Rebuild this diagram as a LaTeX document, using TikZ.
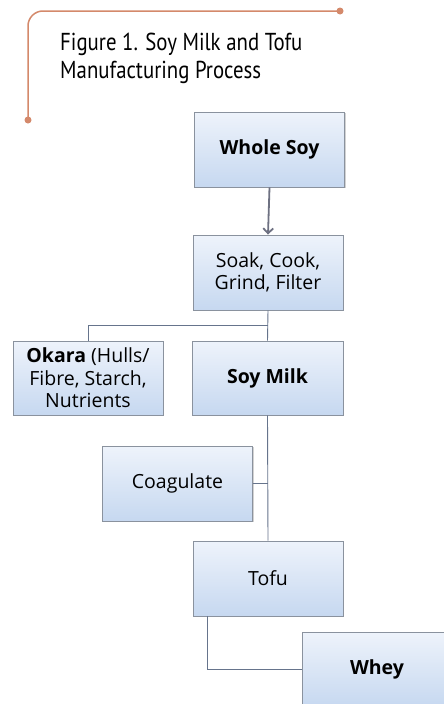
\documentclass[tikz,border=0pt]{standalone}
\usepackage{fontspec}
\setmainfont{Open Sans}
\newfontfamily\titlefont[FakeStretch=0.85]{PT Sans}
\usetikzlibrary{shadows,arrows.meta}
\definecolor{accent}{HTML}{D4896B}
\definecolor{boxline}{HTML}{8A929E}
\definecolor{conn}{HTML}{66748C}
\definecolor{arrowc}{HTML}{6E7182}
\definecolor{boxtop}{HTML}{EEF3FB}
\definecolor{boxbot}{HTML}{C6D8F0}
\tikzset{
  procbox/.style={draw=boxline, line width=0.9pt, top color=boxtop, bottom color=boxbot,
    minimum width=150pt, minimum height=75pt, align=center, inner sep=2pt,
    font=\fontsize{19.5}{22.5}\selectfont,
    drop shadow={opacity=0.35, shadow xshift=1.2pt, shadow yshift=-1.2pt}},
  link/.style={draw=conn, line width=0.9pt},
  accentline/.style={draw=accent, line width=1.5pt},
  dot/.style={circle, fill=accent, inner sep=0pt, minimum size=7pt}
}
\begin{document}
\begin{tikzpicture}[x=1pt,y=-1pt]
\useasboundingbox (0,0) rectangle (444,704);
\clip (0,0) rectangle (444,704);
\fill[white] (0,0) rectangle (444,704);
% title bracket
\node[dot] (d1) at (340,11) {};
\node[dot] (d2) at (28,120) {};
\draw[accentline, rounded corners=15pt] (d1.center) -- (28,11) -- (d2.center);
\node[anchor=base west, align=left, inner sep=0pt, font=\titlefont\fontsize{24.5}{28}\selectfont] (title) at (60,78)
  {Figure 1. Soy Milk and Tofu\\Manufacturing Process};
% boxes
\node[procbox] (whole) at (269.5,149.5) {\textbf{Whole Soy}};
\node[procbox] (soak) at (268,272.5) {Soak, Cook,\\Grind, Filter};
\node[procbox, minimum height=74pt] (okara) at (88,378) {\textbf{Okara} (Hulls/\\Fibre, Starch,\\Nutrients};
\node[procbox, minimum width=151pt, minimum height=74pt] (milk) at (267.5,378) {\textbf{Soy Milk}};
\node[procbox] (coag) at (177.5,483.5) {Coagulate};
\node[procbox] (tofu) at (268,578.5) {Tofu};
\node[procbox] (whey) at (377,669.5) {\textbf{Whey}};
% connectors
\draw[draw=arrowc, line width=1.8pt, -{Straight Barb[length=5pt,width=10pt]}] (whole.south) -- (soak.north);
\coordinate (split) at (soak.south |- 0,325);
\draw[link] (soak.south) -- (milk.north);
\draw[link] (split) -| (okara.north);
\draw[link] (milk.south) -- (tofu.north);
\draw[link] (coag.east) -- (coag.east -| milk.south);
\coordinate (tofuout) at ([xshift=15pt]tofu.south west);
\draw[link] (tofuout) |- (whey.west);
\end{tikzpicture}
\end{document}
